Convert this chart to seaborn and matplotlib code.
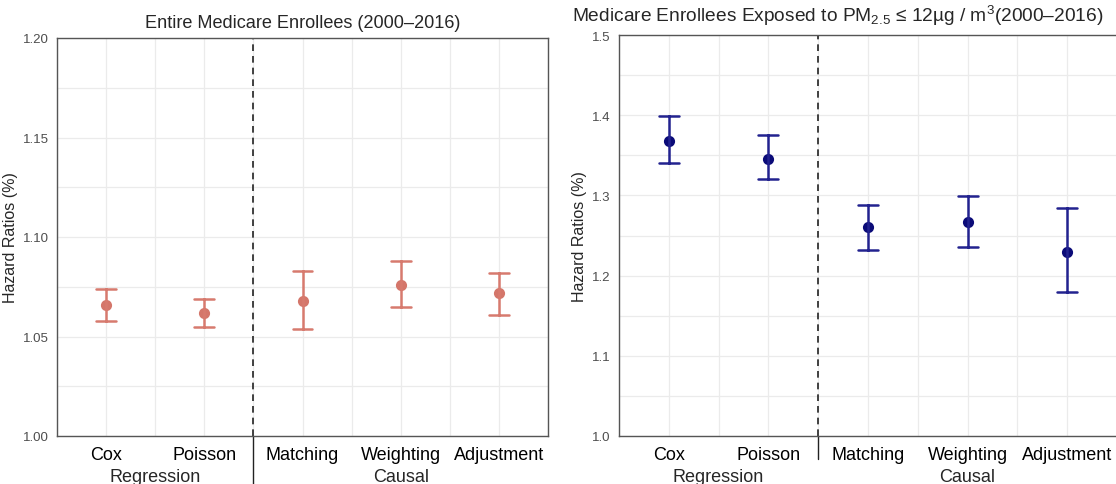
import numpy as np
import pandas as pd

import matplotlib
matplotlib.use('AGG')
import matplotlib.pyplot as plt
import matplotlib.transforms as mtransforms
from matplotlib.ticker import MultipleLocator
import seaborn as sns

sns.set_theme(style="white")
plt.rcParams['font.family'] = ['Liberation Sans', 'DejaVu Sans']
plt.rcParams['mathtext.fontset'] = 'custom'
plt.rcParams['mathtext.rm'] = 'Liberation Sans'
plt.rcParams['mathtext.it'] = 'Liberation Sans:italic'

# ---------------------------------------------------------------
# data (hazard ratio + 95% CI)
methods = ["Cox", "Poisson", "Matching", "Weighting", "Adjustment"]
groups = ["Regression", "Causal"]

all_hr = [1.066, 1.062, 1.068, 1.076, 1.072]
all_lo = [1.058, 1.055, 1.054, 1.065, 1.061]
all_hi = [1.074, 1.069, 1.083, 1.088, 1.082]

low_hr = [1.368, 1.346, 1.260, 1.267, 1.230]
low_lo = [1.340, 1.320, 1.232, 1.236, 1.179]
low_hi = [1.399, 1.375, 1.288, 1.299, 1.284]


def long_df(hr, lo, hi):
    """one row per bound so median = estimate, min/max = CI"""
    rows = []
    for m, a, b, c in zip(methods, lo, hr, hi):
        for v in (a, b, c):
            rows.append({'method': m, 'hr': v})
    return pd.DataFrame(rows)


def draw_panel(ax, df, color, ptcolor, ylim, major, minor, fmt, sep_len):
    sns.pointplot(data=df, x='method', y='hr', order=methods,
                  estimator=np.median, errorbar=('pi', 100),
                  capsize=0.2, linestyle='none', color=color,
                  markersize=6, err_kws={'linewidth': 1.8}, ax=ax)
    # points a bit darker than the bars
    for ln in ax.lines:
        if ln.get_marker() not in (None, '', 'None'):
            ln.set_markerfacecolor(ptcolor)
            ln.set_markeredgecolor(ptcolor)

    ax.set_xlim(-0.5, 4.5)
    ax.set_ylim(*ylim)
    ax.yaxis.set_major_locator(MultipleLocator(major))
    ax.yaxis.set_minor_locator(MultipleLocator(minor))
    ax.xaxis.set_minor_locator(MultipleLocator(0.5))
    ax.yaxis.set_major_formatter(matplotlib.ticker.FormatStrFormatter(fmt))
    ax.grid(True, which='both', color='#ebebeb', linewidth=0.9)
    ax.set_axisbelow(True)

    for s in ax.spines.values():
        s.set_visible(True)
        s.set_color('#555555')
        s.set_linewidth(1.0)

    ax.tick_params(which='major', length=3, width=0.8, color='#555555', pad=3)
    ax.tick_params(which='minor', length=0)
    ax.tick_params(axis='y', labelsize=9.5, labelcolor='#4d4d4d')
    ax.tick_params(axis='x', labelsize=13, labelcolor='black', pad=4)
    ax.set_xlabel('')
    ax.set_ylabel('Hazard Ratios (%)', fontsize=11.5)

    # dashed separator between the two families
    ax.axvline(1.5, color='#222222', linestyle=(0, (4, 3)), linewidth=1.2)
    trans = mtransforms.blended_transform_factory(ax.transData, ax.transAxes)
    ax.plot([1.5, 1.5], [0, -sep_len], transform=trans, color='#222222',
            linewidth=1.0, clip_on=False)
    ax.text(0.5, -0.08, groups[0], transform=trans, ha='center', va='top',
            fontsize=13)
    ax.text(3.0, -0.08, groups[1], transform=trans, ha='center', va='top',
            fontsize=13)


fig = plt.figure(figsize=(11.16, 4.85), dpi=100)
ax1 = fig.add_axes([57 / 1116, 48 / 485, 491 / 1116, 398 / 485])
ax2 = fig.add_axes([619 / 1116, 48 / 485, 498 / 1116, 401 / 485])

draw_panel(ax1, long_df(all_hr, all_lo, all_hi), '#d77a6e', '#d4766a',
           (1.0, 1.2), 0.05, 0.025, '%.2f', 0.12)
draw_panel(ax2, long_df(low_hr, low_lo, low_hi), '#22228f', '#0b0b78',
           (1.0, 1.5), 0.1, 0.05, '%.1f', 0.058)

ax1.yaxis.set_label_coords(-0.079, 0.5)
ax2.yaxis.set_label_coords(-0.064, 0.5)

ax1.set_title('Entire Medicare Enrollees (2000\u20132016)', fontsize=13.1, pad=8)
ax2.text(0.44, 1.02,
         'Medicare Enrollees Exposed to PM$_{2.5}$ \u2264 12\u00b5g / m$^{3}$(2000\u20132016)',
         transform=ax2.transAxes, ha='center', va='bottom', fontsize=13.8)

fig.savefig('out.png', dpi=100)
